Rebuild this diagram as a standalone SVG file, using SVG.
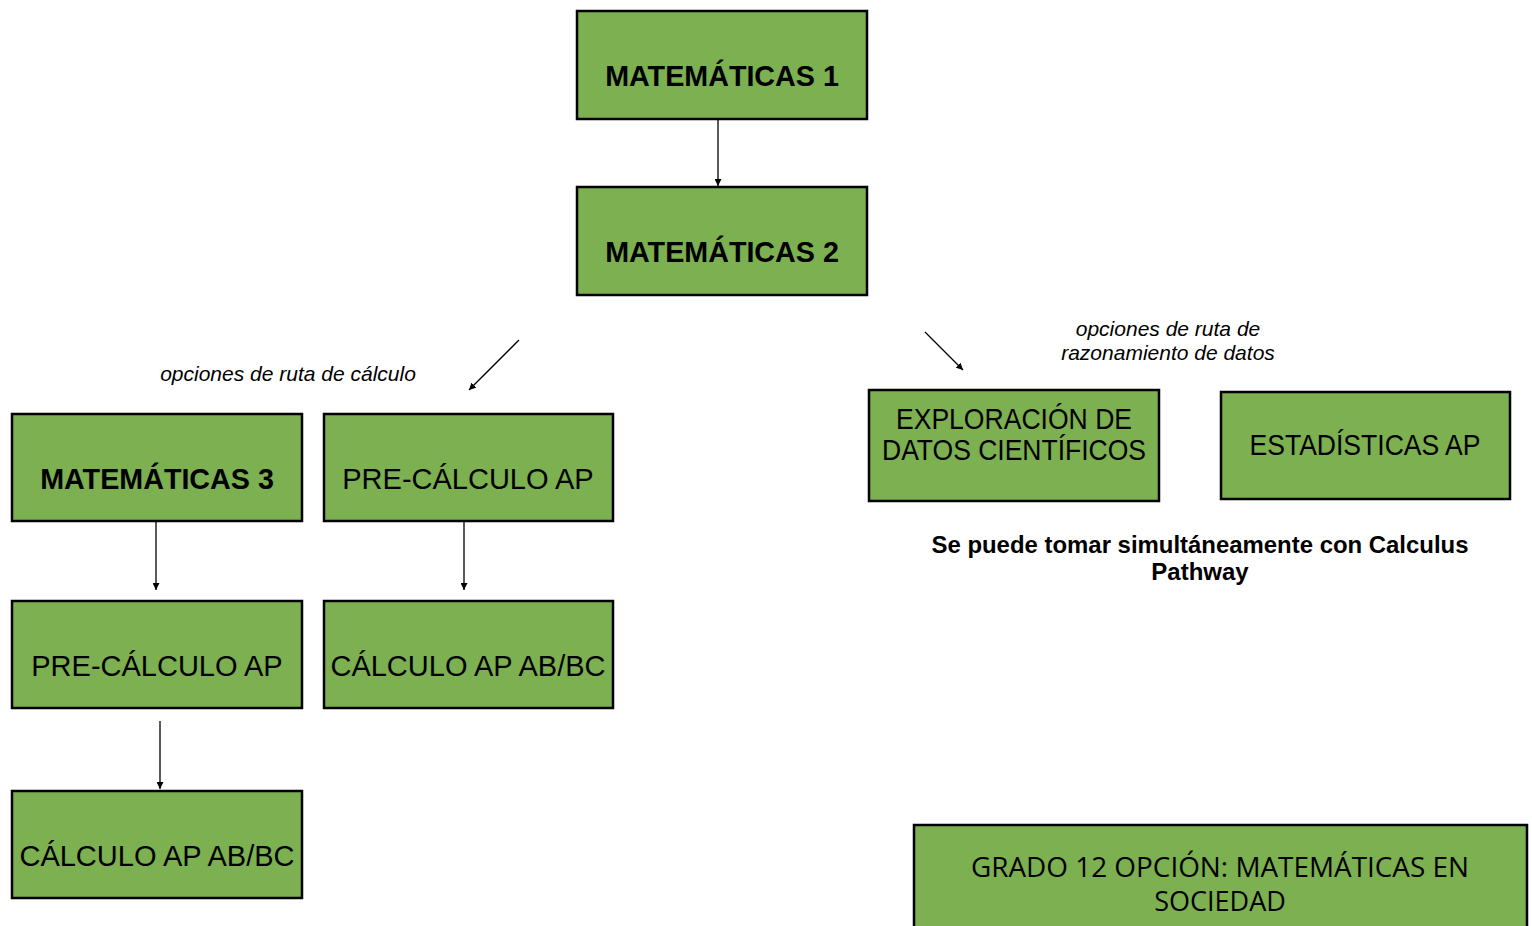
<svg xmlns="http://www.w3.org/2000/svg" width="1532" height="926" viewBox="0 0 1532 926">
<style>
.box{fill:#7cb050;stroke:#000;stroke-width:2.5}
.b{font-family:"Liberation Sans",Arial,sans-serif;font-weight:bold;font-size:28.7px;fill:#000;text-anchor:middle}
.r{font-family:"Liberation Sans",Arial,sans-serif;font-size:29px;fill:#000;text-anchor:middle}
.i{font-family:"Liberation Sans",Arial,sans-serif;font-style:italic;font-size:21px;fill:#000;text-anchor:middle}
.c{font-family:"Open Sans","Noto Sans",sans-serif;font-size:27px;fill:#000;text-anchor:middle}
.note{font-family:"Liberation Sans",Arial,sans-serif;font-weight:bold;font-size:24px;fill:#000;text-anchor:middle}
.conn{stroke:#000;stroke-width:1.3;fill:none;marker-end:url(#ah)}
</style>
<defs>
<marker id="ah" viewBox="0 0 10 10" refX="10" refY="5" markerWidth="7" markerHeight="7" markerUnits="userSpaceOnUse" orient="auto">
<path d="M0,0 L10,5 L0,10 z" fill="#000"/>
</marker>
</defs>
<rect width="1532" height="926" fill="#fff"/>
<g id="connectors">
<line class="conn" x1="718" y1="120" x2="718" y2="186"/>
<line class="conn" x1="519" y1="340" x2="469" y2="390"/>
<line class="conn" x1="925" y1="332" x2="963" y2="370"/>
<line class="conn" x1="156" y1="522" x2="156" y2="590"/>
<line class="conn" x1="464" y1="522" x2="464" y2="590"/>
<line class="conn" x1="160" y1="721" x2="160" y2="789"/>
</g>
<g id="mat1"><rect class="box" x="577" y="11" width="290" height="108"/><text class="b" x="722" y="86">MATEMÁTICAS 1</text></g>
<g id="mat2"><rect class="box" x="577" y="187" width="290" height="108"/><text class="b" x="722" y="262">MATEMÁTICAS 2</text></g>
<g id="label-calc"><text class="i" x="288" y="381">opciones de ruta de cálculo</text></g>
<g id="label-datos"><text class="i" x="1168" y="336">opciones de ruta de</text><text class="i" x="1168" y="360">razonamiento de datos</text></g>
<g id="mat3"><rect class="box" x="12" y="414" width="290" height="107"/><text class="b" x="157" y="489">MATEMÁTICAS 3</text></g>
<g id="precalc-top"><rect class="box" x="324" y="414" width="289" height="107"/><text class="r" x="468" y="489">PRE-CÁLCULO AP</text></g>
<g id="precalc-left"><rect class="box" x="12" y="601" width="290" height="107"/><text class="r" x="157" y="676">PRE-CÁLCULO AP</text></g>
<g id="calc-right"><rect class="box" x="324" y="601" width="289" height="107"/><text class="r" x="468" y="676">CÁLCULO AP AB/BC</text></g>
<g id="calc-left"><rect class="box" x="12" y="791" width="290" height="107"/><text class="r" x="157" y="866">CÁLCULO AP AB/BC</text></g>
<g id="exploracion"><rect class="box" x="869" y="390" width="290" height="111"/>
<text class="r" x="1014" y="429" font-size="24" textLength="236" lengthAdjust="spacingAndGlyphs">EXPLORACIÓN DE</text>
<text class="r" x="1014" y="460" font-size="24" textLength="264" lengthAdjust="spacingAndGlyphs">DATOS CIENTÍFICOS</text></g>
<g id="estadisticas"><rect class="box" x="1221" y="392" width="289" height="107"/>
<text class="r" x="1365" y="455" font-size="28" textLength="231" lengthAdjust="spacingAndGlyphs">ESTADÍSTICAS AP</text></g>
<g id="note"><text class="note" x="1200" y="553" textLength="537" lengthAdjust="spacingAndGlyphs">Se puede tomar simultáneamente con Calculus</text><text class="note" x="1200" y="580">Pathway</text></g>
<g id="grado12"><rect class="box" x="914" y="825" width="613" height="120"/>
<text class="c" x="1220" y="877" textLength="498" lengthAdjust="spacingAndGlyphs">GRADO 12 OPCIÓN: MATEMÁTICAS EN</text>
<text class="c" x="1220" y="911">SOCIEDAD</text></g>
</svg>
